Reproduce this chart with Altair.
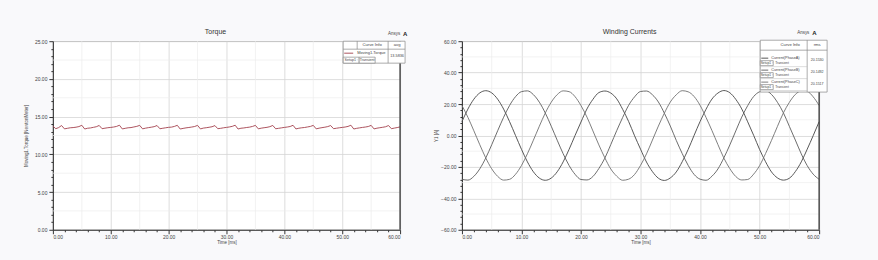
import altair as alt
import pandas as pd

# ---------------- data ----------------
torque_time_ms = [
    0.0, 0.5, 1.0, 1.5, 2.0, 2.5, 3.0, 3.5, 4.0, 4.5, 5.0, 5.5, 6.0, 6.5, 7.0, 7.5, 8.0, 8.5, 9.0, 9.5,
    10.0, 10.5, 11.0, 11.5, 12.0, 12.5, 13.0, 13.5, 14.0, 14.5, 15.0, 15.5, 16.0, 16.5, 17.0, 17.5, 18.0, 18.5, 19.0, 19.5,
    20.0, 20.5, 21.0, 21.5, 22.0, 22.5, 23.0, 23.5, 24.0, 24.5, 25.0, 25.5, 26.0, 26.5, 27.0, 27.5, 28.0, 28.5, 29.0, 29.5,
    30.0, 30.5, 31.0, 31.5, 32.0, 32.5, 33.0, 33.5, 34.0, 34.5, 35.0, 35.5, 36.0, 36.5, 37.0, 37.5, 38.0, 38.5, 39.0, 39.5,
    40.0, 40.5, 41.0, 41.5, 42.0, 42.5, 43.0, 43.5, 44.0, 44.5, 45.0, 45.5, 46.0, 46.5, 47.0, 47.5, 48.0, 48.5, 49.0, 49.5,
    50.0, 50.5, 51.0, 51.5, 52.0, 52.5, 53.0, 53.5, 54.0, 54.5, 55.0, 55.5, 56.0, 56.5, 57.0, 57.5, 58.0, 58.5, 59.0, 59.5,
    60.0,
]
torque_nm = [
    13.75, 13.40, 13.55, 13.82, 13.38, 13.45, 13.52, 13.55, 13.60, 13.68, 13.85, 13.36, 13.46, 13.50, 13.58, 13.66, 13.83, 13.40, 13.47, 13.53,
    13.57, 13.62, 13.70, 13.86, 13.37, 13.45, 13.52, 13.55, 13.63, 13.71, 13.84, 13.38, 13.47, 13.54, 13.60, 13.67, 13.82, 13.39, 13.46, 13.52,
    13.58, 13.61, 13.70, 13.85, 13.36, 13.44, 13.51, 13.56, 13.62, 13.69, 13.84, 13.37, 13.48, 13.53, 13.59, 13.66, 13.81, 13.40, 13.45, 13.52,
    13.57, 13.63, 13.71, 13.86, 13.36, 13.46, 13.50, 13.56, 13.61, 13.70, 13.84, 13.38, 13.47, 13.53, 13.58, 13.67, 13.83, 13.39, 13.45, 13.51,
    13.57, 13.62, 13.69, 13.85, 13.37, 13.46, 13.52, 13.56, 13.63, 13.70, 13.84, 13.38, 13.47, 13.54, 13.60, 13.68, 13.82, 13.40, 13.46, 13.52,
    13.57, 13.62, 13.70, 13.86, 13.36, 13.45, 13.51, 13.57, 13.62, 13.69, 13.84, 13.37, 13.47, 13.53, 13.59, 13.66, 13.82, 13.40, 13.48, 13.55,
    13.64,
]

current_time_ms = [
    0, 1, 2, 3, 4, 5, 6, 7, 8, 9, 10, 11, 12, 13, 14, 15, 16, 17, 18, 19,
    20, 21, 22, 23, 24, 25, 26, 27, 28, 29, 30, 31, 32, 33, 34, 35, 36, 37, 38, 39,
    40, 41, 42, 43, 44, 45, 46, 47, 48, 49, 50, 51, 52, 53, 54, 55, 56, 57, 58, 59,
    60,
]
current_a = [
    8.8, 16.8, 23.1, 27.1, 28.5, 27.1, 23.1, 16.8, 8.8, 0.0, -8.8, -16.8, -23.1, -27.1, -28.5, -27.1, -23.1, -16.8, -8.8, 0.0,
    8.6, 16.9, 23.0, 27.3, 28.3, 27.0, 23.3, 16.6, 8.9, -0.2, -8.7, -16.9, -23.0, -27.2, -28.6, -27.0, -23.2, -16.7, -8.9, 0.1,
    8.9, 16.7, 23.2, 27.0, 28.6, 27.2, 23.0, 16.9, 8.7, 0.1, -8.9, -16.7, -23.2, -27.0, -28.4, -27.2, -23.0, -16.8, -8.7, -0.1,
    8.8,
]
current_b = [
    -27.9, -28.4, -26.0, -21.2, -14.3, -5.9, 3.0, 11.6, 19.1, 24.7, 27.9, 28.4, 26.0, 21.2, 14.3, 5.9, -3.0, -11.6, -19.1, -24.7,
    -28.0, -28.3, -26.1, -21.0, -14.4, -5.8, 3.1, 11.5, 19.2, 24.6, 28.0, 28.3, 25.9, 21.3, 14.2, 6.0, -3.1, -11.5, -19.0, -24.8,
    -27.8, -28.5, -25.9, -21.3, -14.2, -6.0, 2.9, 11.7, 19.0, 24.8, 27.8, 28.5, 26.1, 21.1, 14.4, 5.8, -2.9, -11.7, -19.2, -24.6,
    -27.9,
]
current_c = [
    19.1, 11.6, 3.0, -5.9, -14.3, -21.2, -26.0, -28.4, -27.9, -24.7, -19.1, -11.6, -3.0, 5.9, 14.3, 21.2, 26.0, 28.4, 27.9, 24.7,
    19.0, 11.7, 2.9, -6.0, -14.2, -21.3, -25.9, -28.5, -27.8, -24.8, -19.0, -11.7, -2.9, 6.0, 14.2, 21.3, 25.9, 28.5, 27.8, 24.8,
    19.2, 11.5, 3.1, -5.8, -14.4, -21.1, -26.1, -28.3, -28.0, -24.6, -19.2, -11.5, -3.1, 5.8, 14.4, 21.1, 26.1, 28.3, 28.0, 24.6,
    19.1,
]
phase_names = ["Current(PhaseA)", "Current(PhaseB)", "Current(PhaseC)"]
phase_rms = ["20.1530", "20.1492", "20.1517"]
torque_avg = "13.5836"

x_ticks = [0, 2, 4, 6, 8, 10, 12, 14, 16, 18, 20, 22, 24, 26, 28, 30, 32, 34, 36, 38, 40,
           42, 44, 46, 48, 50, 52, 54, 56, 58, 60]
x_half_grid = [5, 15, 25, 35, 45, 55]
torque_y_ticks = [0, 1, 2, 3, 4, 5, 6, 7, 8, 9, 10, 11, 12, 13, 14, 15, 16, 17, 18, 19, 20,
                  21, 22, 23, 24, 25]
torque_half_grid = [2.5, 7.5, 12.5, 17.5, 22.5]
current_y_ticks = [-60, -56, -52, -48, -44, -40, -36, -32, -28, -24, -20, -16, -12, -8, -4, 0,
                   4, 8, 12, 16, 20, 24, 28, 32, 36, 40, 44, 48, 52, 56, 60]
current_half_grid = [-50, -30, -10, 10, 30, 50]

torque_df = pd.DataFrame({"t": torque_time_ms, "torque": torque_nm})
cur_df = pd.concat([
    pd.DataFrame({"t": current_time_ms, "i": current_a, "phase": phase_names[0]}),
    pd.DataFrame({"t": current_time_ms, "i": current_b, "phase": phase_names[1]}),
    pd.DataFrame({"t": current_time_ms, "i": current_c, "phase": phase_names[2]}),
])
one = pd.DataFrame({"k": [0]})

TORQUE_COLOR = "#a3404c"
CURVE_COLORS = ["#444444", "#5c5c5c", "#707070"]
TXT = "#444444"

LW, LH = 348, 189
RW, RH = 358, 189


def cond(step, major, minor):
    return {"condition": {"test": f"abs(datum.value % {step}) < 0.001", "value": major}, "value": minor}


def make_axis(step, title, values, orient_x=False):
    return alt.Axis(
        values=values,
        title=title,
        labelExpr=f"abs(datum.value % {step}) < 0.001 ? format(datum.value, '.2f') : ''",
        tickSize=cond(step, 4, 2),
        gridOpacity=cond(step, 1, 0),
        gridColor="#d4d4d4",
        gridWidth=0.8,
        labelFontSize=5,
        labelColor=TXT,
        titleFontSize=4.5,
        titleColor=TXT,
        titleFontWeight="normal",
        domainColor="#333333",
        tickColor="#333333",
        labelPadding=1 if orient_x else 2,
        titlePadding=0 if orient_x else 2,
        minExtent=10 if orient_x else 22,
        maxExtent=10 if orient_x else 22,
    )


def txt(s, x, y, size=4.2, align="left", color=TXT, weight="normal"):
    return alt.Chart(one).mark_text(text=s, align=align, baseline="middle", fontSize=size,
                                    color=color, fontWeight=weight, font="Liberation Sans").encode(
        x=alt.value(x), y=alt.value(y))


def box(x1, x2, y1, y2, fill="white", stroke="#888888", sw=0.7):
    return alt.Chart(one).mark_rect(fill=fill, stroke=stroke, strokeWidth=sw).encode(
        x=alt.value(x1), x2=alt.value(x2), y=alt.value(y1), y2=alt.value(y2))


def rule(x1, x2, y1, y2, color="#888888", w=0.7):
    return alt.Chart(one).mark_rule(color=color, strokeWidth=w).encode(
        x=alt.value(x1), x2=alt.value(x2), y=alt.value(y1), y2=alt.value(y2))


# ---------------- left: torque ----------------
tx_axis = make_axis(10, "Time [ms]", x_ticks, orient_x=True)
ty_axis = make_axis(5, "Moving1.Torque [NewtonMeter]", torque_y_ticks)

t_xscale = alt.Scale(domain=[0, 60], nice=False)
t_yscale = alt.Scale(domain=[0, 25], nice=False)

t_half_x = alt.Chart(pd.DataFrame({"v": x_half_grid})).mark_rule(color="#ececec", strokeWidth=0.7).encode(
    x=alt.X("v:Q", scale=t_xscale, axis=tx_axis))
t_half_y = alt.Chart(pd.DataFrame({"v": torque_half_grid})).mark_rule(color="#ececec", strokeWidth=0.7).encode(
    y=alt.Y("v:Q", scale=t_yscale, axis=ty_axis))

torque_line = alt.Chart(torque_df).mark_line(color=TORQUE_COLOR, strokeWidth=0.9).encode(
    x=alt.X("t:Q", scale=t_xscale, axis=tx_axis),
    y=alt.Y("torque:Q", scale=t_yscale, axis=ty_axis),
)

left_ann = [
    rule(LW, LW, 0, LH, color="#444444", w=1.4),
    txt("Torque", 163, -9, size=7, align="center", color="#333333"),
    txt("Ansys", 336, -7, size=4.5),
    txt("A", 351, -7, size=6, weight="bold", color="#222222"),
    box(291, 353, 0, 22),
    rule(305, 305, 0, 8),
    rule(336, 336, 0, 22),
    rule(291, 353, 8, 8),
    txt("Curve Info", 320, 4, align="center"),
    txt("avg", 345, 4, align="center"),
    rule(292, 301, 12, 12, color=TORQUE_COLOR, w=0.9),
    txt("Moving1.Torque", 305, 12, size=4),
    box(291, 307, 16, 22),
    box(307, 323, 16, 22),
    txt("Setup1 :", 299, 19, size=3.6, align="center"),
    txt("Transient", 315, 19, size=3.6, align="center"),
    txt(torque_avg, 345, 15, size=3.8, align="center"),
]

left = alt.layer(t_half_x, t_half_y, torque_line, *left_ann).properties(width=LW, height=LH)

# ---------------- right: winding currents ----------------
cx_axis = make_axis(10, "Time [ms]", x_ticks, orient_x=True)
cy_axis = make_axis(20, "Y1 [A]", current_y_ticks)

c_xscale = alt.Scale(domain=[0, 60], nice=False)
c_yscale = alt.Scale(domain=[-60, 60], nice=False)

c_half_x = alt.Chart(pd.DataFrame({"v": x_half_grid})).mark_rule(color="#ececec", strokeWidth=0.7).encode(
    x=alt.X("v:Q", scale=c_xscale, axis=cx_axis))
c_half_y = alt.Chart(pd.DataFrame({"v": current_half_grid})).mark_rule(color="#ececec", strokeWidth=0.7).encode(
    y=alt.Y("v:Q", scale=c_yscale, axis=cy_axis))

cur_lines = alt.Chart(cur_df).mark_line(strokeWidth=0.9, interpolate="monotone").encode(
    x=alt.X("t:Q", scale=c_xscale, axis=cx_axis),
    y=alt.Y("i:Q", scale=c_yscale, axis=cy_axis),
    color=alt.Color("phase:N", scale=alt.Scale(domain=phase_names, range=CURVE_COLORS), legend=None),
    detail="phase:N",
)

right_ann = [
    rule(RW, RW, 0, RH, color="#444444", w=1.4),
    txt("Winding Currents", 168, -9, size=7, align="center", color="#333333"),
    txt("Ansys", 336, -8, size=4.5),
    txt("A", 351, -8, size=6, weight="bold", color="#222222"),
    box(299, 366, -1, 51),
    rule(346, 346, -1, 51),
    rule(299, 366, 9, 9),
    txt("Curve Info", 329, 4, align="center"),
    txt("rms", 356, 4, align="center"),
]
row_y = [17, 29, 41]
for k in range(3):
    y = row_y[k]
    right_ann += [
        rule(300, 307, y, y, color=CURVE_COLORS[k], w=0.9),
        txt(phase_names[k], 310, y, size=3.8),
        box(299, 312, y + 2.5, y + 7.5),
        txt("Setup1 :", 305.5, y + 5, size=3.3, align="center"),
        txt("Transient", 314, y + 5, size=3.3),
        txt(phase_rms[k], 356, y + 2, size=3.6, align="center"),
        rule(299, 346, y + 8.5, y + 8.5, color="#bbbbbb", w=0.5),
    ]

right = alt.layer(c_half_x, c_half_y, cur_lines, *right_ann).properties(width=RW, height=RH)

chart = alt.hconcat(left, right, spacing=24).properties(
    padding={"left": 23, "top": 27, "right": 50, "bottom": 16},
    background="#f9f9fb",
).configure_view(
    fill="white", stroke="#9a9a9a", strokeWidth=0.8,
).configure_axis(
    labelFont="Liberation Sans", titleFont="Liberation Sans",
)

chart.save("out.html", embed_options={"renderer": "svg", "actions": False})
